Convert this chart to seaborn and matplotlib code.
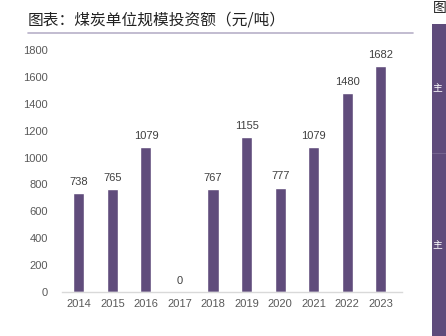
import matplotlib
matplotlib.use("Agg")
import matplotlib.pyplot as plt
import seaborn as sns
import pandas as pd
from matplotlib.patches import Rectangle
from matplotlib.lines import Line2D

years = ["2014", "2015", "2016", "2017", "2018", "2019", "2020", "2021", "2022", "2023"]
values = [738, 765, 1079, 0, 767, 1155, 777, 1079, 1480, 1682]
yticks = [0, 200, 400, 600, 800, 1000, 1200, 1400, 1600, 1800]
title = "图表：煤炭单位规模投资额（元/吨）"

sns.set_theme(style="white")
plt.rcParams['font.family'] = ['Liberation Sans', 'Noto Sans CJK SC', 'DejaVu Sans']

bar_color = "#604C7C"
txt_color = "#595959"

fig = plt.figure(figsize=(4.46, 3.36), dpi=100)
ax = fig.add_axes([62/446, 44/336, 340/446, 242/336])

df = pd.DataFrame({"year": years, "value": values})
sns.barplot(data=df, x="year", y="value", color=bar_color, width=0.33,
            saturation=1, ax=ax)

for i, v in enumerate(values):
    ax.text(i, v + 45, str(v), ha="center", va="bottom", fontsize=8, color="#404040")

ax.set_ylim(0, 1800)
ax.set_xlim(-0.5, 9.63)
ax.set_yticks(yticks)
ax.set_yticklabels([str(t) for t in yticks])
ax.set_xlabel("")
ax.set_ylabel("")
ax.tick_params(axis="both", labelsize=8, colors=txt_color, length=0)
ax.tick_params(axis="y", pad=10)
ax.tick_params(axis="x", pad=5)
for s in ["top", "right", "left"]:
    ax.spines[s].set_visible(False)
ax.spines["bottom"].set_color("#d9d9d9")
ax.spines["bottom"].set_linewidth(1)

# title and underline
fig.text(28/446, 1 - 20/336, title, fontsize=11.3, color="#222222",
         va="center", ha="left", family=['Noto Sans CJK SC', 'DejaVu Sans'])
fig.add_artist(Line2D([28/446, 413/446], [1 - 33/336, 1 - 33/336],
                      color="#b8b0c8", linewidth=1.2, transform=fig.transFigure))

# fragment of neighbouring chart at the right edge
fig.add_artist(Rectangle((432/446, 0), 14/446, 1 - 24/336, transform=fig.transFigure,
                         facecolor="#5F4B7B", edgecolor="none"))
fig.add_artist(Line2D([432/446, 446/446], [1 - 153/336, 1 - 153/336],
                      color="#7a6a92", linewidth=0.6, transform=fig.transFigure))
fig.text(433/446, 1 - 8/336, "图", fontsize=10, color="#222222", va="center", ha="left",
         family=['Noto Sans CJK SC', 'DejaVu Sans'])
fig.text(432/446, 1 - 88/336, "主", fontsize=7, color="white", va="center", ha="left",
         family=['Noto Sans CJK SC', 'DejaVu Sans'])
fig.text(432/446, 1 - 245/336, "主", fontsize=7, color="white", va="center", ha="left",
         family=['Noto Sans CJK SC', 'DejaVu Sans'])

fig.savefig("out.png", dpi=100)
